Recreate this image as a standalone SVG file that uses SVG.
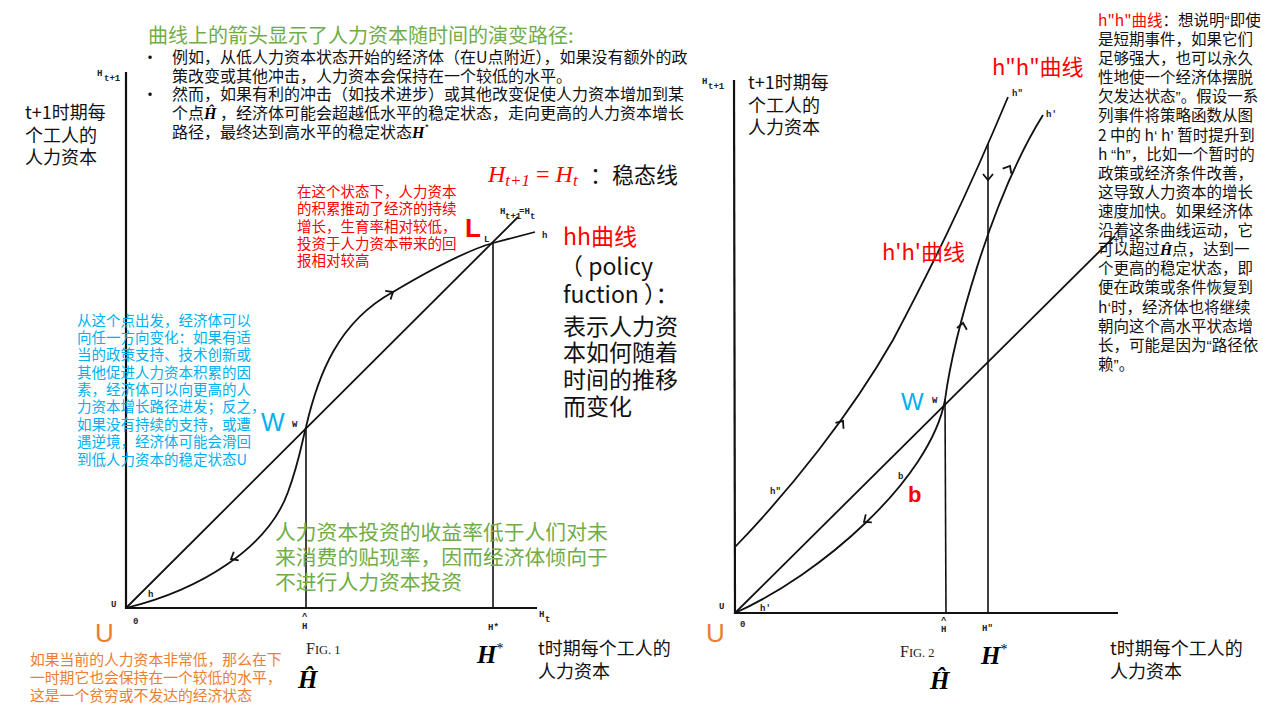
<svg xmlns="http://www.w3.org/2000/svg" xmlns:xlink="http://www.w3.org/1999/xlink" width="1280" height="720" viewBox="0 0 1280 720">
<style>
.cjk{font-family:"Noto Sans CJK SC","Noto Sans",sans-serif;}
.ax{stroke:#111;stroke-width:2.2;fill:none;}
.cv{stroke:#111;stroke-width:1.8;fill:none;}
.ln{stroke:#111;stroke-width:1.6;fill:none;}
.sm{font-family:"Liberation Mono",monospace;font-size:9px;fill:#222;font-weight:bold;}
.bh{font-family:"Liberation Serif",serif;font-style:italic;font-weight:bold;fill:#000;}
.q{font-family:"Liberation Sans",sans-serif;}
.gr{fill:#70AD47;}
.rd{fill:#FF0000;}
.bl{fill:#00B0F0;}
.or{fill:#ED7D31;}
.bk{fill:#111;}
</style>
<defs>
<path id="chev" d="M-6,-5 L0,0 L-6,5" stroke="#111" stroke-width="1.8" fill="none"/>
</defs>
<rect width="1280" height="720" fill="#fff"/>

<!-- Top annotation -->
<g id="title-note" class="cjk">
<text x="148" y="43" font-size="20" class="gr">曲线上的箭头显示了人力资本随时间的演变路径:</text>
<g font-size="16" class="bk">
<text x="142" y="63">•</text>
<text x="172" y="63">例如，从低人力资本状态开始的经济体（在U点附近），如果没有额外的政</text>
<text x="172" y="82">策改变或其他冲击，人力资本会保持在一个较低的水平。</text>
<text x="142" y="100">•</text>
<text x="172" y="100">然而，如果有利的冲击（如技术进步）或其他改变促使人力资本增加到某</text>
<text x="172" y="119">个点<tspan class="bh" font-size="16">Ĥ</tspan> ，经济体可能会超越低水平的稳定状态，走向更高的人力资本增长</text>
<text x="172" y="138">路径，最终达到高水平的稳定状态<tspan class="bh" font-size="16">H</tspan><tspan font-size="10" dy="-6">*</tspan></text>
</g>
</g>

<!-- Figure 1 -->
<g id="fig1-axes">
<line class="ax" x1="126" y1="72" x2="126" y2="609"/>
<line class="ax" x1="125" y1="608" x2="537" y2="608"/>
</g>
<g id="fig1-connectors">
<line class="cv" x1="126" y1="608" x2="518" y2="217"/>
<line class="ln" x1="306" y1="427" x2="306" y2="608"/>
<line class="ln" x1="493" y1="243" x2="493" y2="608"/>
<path class="cv" d="M126,608 C200,590 268,548 288,492 C299,462 302,442 306,427 C318,375 338,322 393,292 C430,270 465,251 493,243 L535,232"/>
<use xlink:href="#chev" transform="translate(231,559) rotate(151)"/>
<use xlink:href="#chev" transform="translate(393,292) rotate(-32)"/>
</g>
<g id="fig1-labels">
<text class="sm" x="97" y="76">H</text><text class="sm" x="104" y="81" font-size="8">t+1</text>
<text class="sm" x="111" y="607">U</text>
<text class="sm" x="133" y="624">0</text>
<text class="sm" x="148" y="597">h</text>
<text class="sm" x="302" y="619">^</text>
<text class="sm" x="302" y="629">H</text>
<text class="sm" x="488" y="630">H*</text>
<text class="sm" x="539" y="617">H</text><text class="sm" x="545" y="622" font-size="8">t</text>
<text class="sm" x="484" y="242" font-size="8">L</text>
<text class="sm" x="292" y="427" font-size="8">W</text>
<text class="sm" x="500" y="214" font-size="8">H</text><text class="sm" x="505" y="219" font-size="7">t+1</text><text class="sm" x="519" y="214" font-size="8">=H</text><text class="sm" x="530" y="219" font-size="7">t</text>
<text class="sm" x="542" y="238">h</text>
<text x="306" y="654" font-family="Liberation Serif,serif" font-size="16" fill="#222">F<tspan font-size="12.5">IG. 1</tspan></text>
</g>

<g id="fig1-notes" class="cjk">
<g id="y-label-1" font-size="18" class="bk">
<text x="25" y="119">t+1时期每</text>
<text x="25" y="142">个工人的</text>
<text x="25" y="164">人力资本</text>
</g>
<g id="L-note" font-size="14.5" class="rd">
<text x="297" y="197">在这个状态下，人力资本</text>
<text x="297" y="214">的积累推动了经济的持续</text>
<text x="297" y="232">增长，生育率相对较低，</text>
<text x="297" y="249">投资于人力资本带来的回</text>
<text x="297" y="266">报相对较高</text>
</g>
<text id="L-big" x="465" y="237" font-family="Liberation Sans,sans-serif" font-size="26" font-weight="bold" class="rd">L</text>
<g id="steady-line">
<text x="488" y="182" font-family="Liberation Serif,serif" font-style="italic" font-size="24" class="rd">H<tspan font-size="17" dy="4">t+1</tspan><tspan dy="-4" font-style="normal"> = </tspan>H<tspan font-size="17" dy="4">t</tspan></text>
<text x="590" y="183" font-size="22" class="bk">：稳态线</text>
</g>
<g id="hh-note" font-size="23" class="bk">
<text x="563" y="245" class="rd">hh曲线</text>
<text x="560" y="275">（ policy</text>
<text x="563" y="303">fuction ）：</text>
<text x="563" y="335">表示人力资</text>
<text x="563" y="361">本如何随着</text>
<text x="563" y="388">时间的推移</text>
<text x="563" y="415">而变化</text>
</g>
<g id="W-note" font-size="14.5" class="bl">
<text x="77" y="326">从这个点出发，经济体可以</text>
<text x="77" y="343">向任一方向变化：如果有适</text>
<text x="77" y="360">当的政策支持、技术创新或</text>
<text x="77" y="378">其他促进人力资本积累的因</text>
<text x="77" y="395">素，经济体可以向更高的人</text>
<text x="77" y="412">力资本增长路径进发；反之，</text>
<text x="77" y="430">如果没有持续的支持，或遭</text>
<text x="77" y="447">遇逆境，经济体可能会滑回</text>
<text x="77" y="465">到低人力资本的稳定状态U</text>
</g>
<text id="W-big-1" x="261" y="431" font-family="Liberation Sans,sans-serif" font-size="25" class="bl">W</text>
<g id="low-note" font-size="20.8" class="gr">
<text x="275" y="540">人力资本投资的收益率低于人们对未</text>
<text x="275" y="565">来消费的贴现率，因而经济体倾向于</text>
<text x="275" y="590">不进行人力资本投资</text>
</g>
<text id="U-big-1" x="95" y="642" font-family="Liberation Sans,sans-serif" font-size="26" class="or">U</text>
<g id="U-note" font-size="14.8" class="or">
<text x="30" y="665">如果当前的人力资本非常低，那么在下</text>
<text x="30" y="683">一时期它也会保持在一个较低的水平，</text>
<text x="30" y="701">这是一个贫穷或不发达的经济状态</text>
</g>
<text x="298" y="688" class="bh" font-size="25">Ĥ</text>
<text x="477" y="663" class="bh" font-size="25">H<tspan font-size="14" dy="-10" font-weight="normal" font-style="normal">*</tspan></text>
<g id="x-label-1" font-size="18" class="bk">
<text x="538" y="655">t时期每个工人的</text>
<text x="538" y="678">人力资本</text>
</g>
</g>

<!-- Figure 2 -->
<g id="fig2-axes">
<line class="ax" x1="734" y1="80" x2="735" y2="614"/>
<line class="ax" x1="734" y1="613" x2="1118" y2="613"/>
</g>
<g id="fig2-connectors">
<line class="cv" x1="735" y1="613" x2="1115" y2="236"/>
<line class="ln" x1="945" y1="400" x2="946" y2="613"/>
<line class="ln" x1="988" y1="144" x2="988" y2="613"/>
<path class="cv" d="M735,547 C790,490 850,415 893,340 C930,270 965,200 1008,97"/>
<path class="cv" d="M735,613 C820,575 930,480 945,400 C953,340 990,200 1043,115"/>
<use xlink:href="#chev" transform="translate(843,421) rotate(-54)"/>
<use xlink:href="#chev" transform="translate(864,522) rotate(143)"/>
<use xlink:href="#chev" transform="translate(963,323) rotate(-80)"/>
<use xlink:href="#chev" transform="translate(1010,166) rotate(-60)"/>
<use xlink:href="#chev" transform="translate(988,180) rotate(90)"/>
</g>
<g id="fig2-labels">
<text class="sm" x="702" y="84">H</text><text class="sm" x="708" y="89" font-size="8">t+1</text>
<text class="sm" x="719" y="609">U</text>
<text class="sm" x="740" y="627">0</text>
<text class="sm" x="760" y="611">h'</text>
<text class="sm" x="941" y="623">^</text>
<text class="sm" x="941" y="632">H</text>
<text class="sm" x="982" y="631">H"</text>
<text class="sm" x="932" y="403" font-size="8">W</text>
<text class="sm" x="898" y="479" font-size="8">b</text>
<text class="sm" x="770" y="494">h"</text>
<text class="sm" x="1012" y="96">h"</text>
<text class="sm" x="1046" y="117">h'</text>
<text class="sm" x="1108" y="243" font-size="7">t+1 =t</text>
<text x="900" y="657" font-family="Liberation Serif,serif" font-size="16" fill="#222">F<tspan font-size="12.5">IG. 2</tspan></text>
</g>
<g id="fig2-notes" class="cjk">
<g id="y-label-2" font-size="18" class="bk">
<text x="748" y="89">t+1时期每</text>
<text x="748" y="112">个工人的</text>
<text x="748" y="134">人力资本</text>
</g>
<text x="992" y="75" font-size="22" class="rd">h"h"曲线</text>
<text x="882" y="260" font-size="22" class="rd">h'h'曲线</text>
<text id="W-big-2" x="901" y="410" font-family="Liberation Sans,sans-serif" font-size="24" class="bl">W</text>
<text id="b-big" x="908" y="502" font-family="Liberation Sans,sans-serif" font-size="22" font-weight="bold" class="rd">b</text>
<text id="U-big-2" x="706" y="642" font-family="Liberation Sans,sans-serif" font-size="26" class="or">U</text>
<text x="930" y="689" class="bh" font-size="25">Ĥ</text>
<text x="981" y="664" class="bh" font-size="25">H<tspan font-size="14" dy="-10" font-weight="normal" font-style="normal">*</tspan></text>
<g id="x-label-2" font-size="18" class="bk">
<text x="1110" y="655">t时期每个工人的</text>
<text x="1110" y="678">人力资本</text>
</g>
<g id="hpp-note" font-size="15.5" class="bk">
<text x="1098" y="26"><tspan class="rd">h"h"曲线</tspan>：想说明<tspan class="q">“</tspan>即使</text>
<text x="1098" y="45">是短期事件，如果它们</text>
<text x="1098" y="64">足够强大，也可以永久</text>
<text x="1098" y="83">性地使一个经济体摆脱</text>
<text x="1098" y="102">欠发达状态<tspan class="q">”</tspan>。假设一系</text>
<text x="1098" y="121">列事件将策略函数从图</text>
<text x="1098" y="141">2 中的 h<tspan class="q">‘</tspan> h<tspan class="q">’</tspan> 暂时提升到</text>
<text x="1098" y="160">h <tspan class="q">“</tspan>h<tspan class="q">”</tspan>，比如一个暂时的</text>
<text x="1098" y="179">政策或经济条件改善，</text>
<text x="1098" y="198">这导致人力资本的增长</text>
<text x="1098" y="217">速度加快。如果经济体</text>
<text x="1098" y="236">沿着这条曲线运动，它</text>
<text x="1098" y="255">可以超过<tspan class="bh" font-size="15.5">Ĥ</tspan>点，达到一</text>
<text x="1098" y="274">个更高的稳定状态，即</text>
<text x="1098" y="293">便在政策或条件恢复到</text>
<text x="1098" y="313">h<tspan class="q">‘</tspan>时，经济体也将继续</text>
<text x="1098" y="332">朝向这个高水平状态增</text>
<text x="1098" y="351">长，可能是因为<tspan class="q">“</tspan>路径依</text>
<text x="1098" y="370">赖<tspan class="q">”</tspan>。</text>
</g>
</g>
</svg>
